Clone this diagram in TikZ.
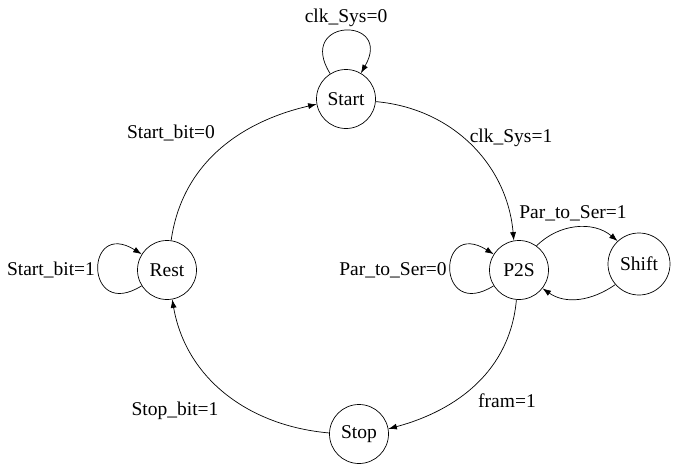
\documentclass[tikz,border=0pt]{standalone}
\usepackage{fontspec}
\setmainfont{Liberation Serif}
\usetikzlibrary{arrows.meta}
\begin{document}
\begin{tikzpicture}[x=1pt,y=1pt, line width=0.7pt,
	>={Latex[length=8.5pt,width=6pt]},
	state/.style={draw, circle, minimum size=59pt, inner sep=0pt, font=\fontsize{19.5}{22}\selectfont},
	lbl/.style={font=\fontsize{19.5}{22}\selectfont, inner sep=0pt}]
	\useasboundingbox (0,0) rectangle (673,-469);

	\node[state] (start) at(346,-99){Start};
	\node[state] (p2s) at(519,-270){P2S};
	\node[state, minimum size=62pt] (shift) at(639,-264){Shift};
	\node[state] (rest) at(167,-270){Rest};
	\node[state] (stop) at(359,-434){Stop};

	% big ring
	\draw[->] (start.-5) to[out=-5,in=95] (p2s.100);
	\draw[->] (p2s.-95) to[out=-95,in=15] (stop.10);
	\draw[->] (stop.178) to[out=175,in=-80] (rest.-80);
	\draw[->] (rest.82) to[out=82,in=193] (start.190);

	% self loops
	\draw[->] (start.122) to[out=122,in=60,looseness=5.5] (start.60);
	\draw[->] (rest.212) to[out=212,in=148,looseness=5.5] (rest.148);
	\draw[->] (p2s.212) to[out=212,in=148,looseness=5.5] (p2s.148);

	\draw[->] (p2s.54) to[out=45,in=140] (shift.133);
	\draw[->] (shift.221) to[out=-145,in=-35] (p2s.-38);

	\node[lbl] (l1) at(346,-18){clk\_Sys=0};
	\node[lbl] (l2) at(511,-138){clk\_Sys=1};
	\node[lbl] (l3) at(573,-213){Par\_to\_Ser=1};
	\node[lbl] (l4) at(393,-270){Par\_to\_Ser=0};
	\node[lbl] (l5) at(51,-270){Start\_bit=1};
	\node[lbl] (l6) at(171,-133){Start\_bit=0};
	\node[lbl] (l7) at(175,-411){Stop\_bit=1};
	\node[lbl] (l8) at(507,-401){fram=1};
\end{tikzpicture}
\end{document}
